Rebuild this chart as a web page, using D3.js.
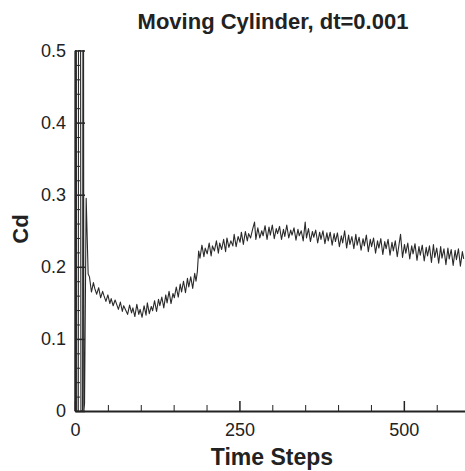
<!DOCTYPE html>
<html>
<head>
<meta charset="utf-8">
<script src="https://cdn.jsdelivr.net/npm/d3@7"></script>
<style>
  body { margin: 0; background: #fff; }
  svg { display: block; font-family: "Liberation Sans", Arial, sans-serif; }
  .axis text { font-size: 18px; fill: #222; }
  .axis path, .axis line { stroke: #222; }
</style>
</head>
<body>
<div id="chart"></div>
<script>
// tick values
const xMajor = [0, 250, 500];
const xMinor = [50, 100, 150, 200, 300, 350, 400, 450, 550];
const yMajor = [0, 0.1, 0.2, 0.3, 0.4, 0.5];
const yMinor = [0.02, 0.04, 0.06, 0.08, 0.12, 0.14, 0.16, 0.18, 0.22, 0.24, 0.26, 0.28,
                0.32, 0.34, 0.36, 0.38, 0.42, 0.44, 0.46, 0.48];

// start-up transient (clipped at 0.5 in the original)
const startup = [
  [0, 0], [0.5, 0.5], [2, 0.5], [2.5, 0], [5, 0], [5.3, 0.5], [8.5, 0.5], [9, 0],
  [11.5, 0], [12, 0.5], [13, 0.5], [13.5, 0], [14.5, 0.01], [17, 0.295], [20, 0.19]
];

// Cd vs time step
const cdSeries = [
  [22,.186],[25,.165],[28,.178],[30,.170],[33,.162],[36,.171],[39,.157],[42,.166],[44,.160],
  [47,.152],[50,.161],[53,.149],[55,.156],[58,.146],[61,.154],[63,.149],[66,.141],[69,.151],
  [72,.138],[74,.146],[77,.140],[80,.134],[83,.147],[86,.136],[88,.143],[91,.131],[94,.148],
  [97,.134],[99,.141],[102,.130],[105,.146],[108,.133],[110,.150],[113,.135],[116,.145],[118,.139],
  [121,.153],[124,.138],[127,.155],[129,.146],[132,.158],[135,.143],[138,.161],[140,.150],[143,.166],
  [146,.149],[149,.163],[151,.157],[154,.172],[157,.158],[160,.176],[162,.165],[165,.180],[168,.164],
  [171,.184],[173,.172],[176,.186],[179,.170],[182,.191],[184,.180],[186,.193],[188,.222],[190,.212],
  [193,.230],[196,.214],[198,.226],[201,.218],[204,.233],[207,.215],[209,.229],[212,.222],[215,.236],
  [218,.219],[220,.233],[223,.224],[226,.238],[229,.221],[231,.240],[234,.227],[237,.236],[240,.229],
  [242,.245],[245,.228],[248,.242],[251,.234],[253,.248],[256,.231],[259,.249],[262,.236],[264,.246],
  [267,.240],[270,.252],[273,.262],[275,.238],[278,.254],[281,.240],[284,.250],[286,.243],[289,.257],
  [292,.238],[295,.255],[297,.244],[300,.258],[303,.239],[306,.253],[308,.246],[311,.256],[314,.238],
  [317,.252],[319,.242],[322,.258],[325,.240],[328,.251],[330,.244],[333,.254],[336,.237],[339,.252],
  [341,.243],[344,.250],[347,.236],[350,.262],[352,.240],[355,.253],[358,.235],[361,.249],[363,.241],
  [366,.251],[369,.233],[372,.248],[374,.238],[377,.250],[380,.232],[383,.247],[385,.236],[388,.248],
  [391,.230],[394,.246],[396,.235],[399,.247],[402,.228],[405,.243],[407,.233],[410,.250],[413,.226],
  [416,.244],[418,.231],[421,.242],[424,.225],[427,.245],[429,.230],[432,.241],[435,.223],[438,.239],
  [440,.229],[443,.244],[446,.221],[449,.238],[451,.228],[454,.240],[457,.219],[460,.236],[462,.226],
  [465,.239],[468,.217],[471,.235],[473,.225],[476,.238],[479,.216],[482,.234],[484,.222],[487,.236],
  [490,.214],[493,.233],[495,.245],[498,.213],[501,.231],[503,.219],[506,.233],[509,.211],[512,.229],
  [514,.218],[517,.232],[520,.209],[523,.228],[525,.216],[528,.230],[531,.208],[534,.227],[536,.215],
  [539,.229],[542,.206],[545,.231],[547,.213],[550,.226],[553,.205],[556,.228],[558,.212],[561,.225],
  [564,.203],[567,.226],[569,.211],[572,.224],[575,.202],[578,.223],[580,.210],[583,.225],[586,.201],
  [589,.221],[591,.211]
];

const width = 465;
const height = 471;

const x = d3.scaleLinear().domain([0, 593]).range([75, 465]);
const y = d3.scaleLinear().domain([0, 0.5]).range([411, 50.5]);

const svg = d3.select('#chart')
  .append('svg')
  .attr('width', width)
  .attr('height', height);

// minor ticks first, then major axes on top
svg.append('g')
  .attr('class', 'axis')
  .attr('transform', 'translate(75,0)')
  .call(d3.axisLeft(y).tickValues(yMinor).tickSizeInner(-5).tickSizeOuter(0).tickFormat(''))
  .call(g => g.select('.domain').remove());

svg.append('g')
  .attr('class', 'axis')
  .attr('transform', 'translate(0,411)')
  .call(d3.axisBottom(x).tickValues(xMinor).tickSizeInner(-6).tickSizeOuter(0).tickFormat(''))
  .call(g => g.select('.domain').remove());

const yAxis = svg.append('g')
  .attr('class', 'axis')
  .attr('transform', 'translate(75,0)')
  .call(d3.axisLeft(y).tickValues(yMajor).tickSizeInner(-10).tickSizeOuter(0)
    .tickPadding(9).tickFormat(d => d === 0 ? '0' : d3.format('.1f')(d)));
yAxis.select('.domain').attr('stroke-width', 2);
yAxis.selectAll('.tick line').attr('stroke-width', 1.5);

const xAxis = svg.append('g')
  .attr('class', 'axis')
  .attr('transform', 'translate(0,411)')
  .call(d3.axisBottom(x).tickValues(xMajor).tickSizeInner(-10).tickSizeOuter(0)
    .tickPadding(12).tickFormat(d3.format('d')));
xAxis.select('.domain').attr('stroke-width', 2);
xAxis.selectAll('.tick line').attr('stroke-width', 1.5);

// the data line
const line = d3.line()
  .x(d => x(d[0]))
  .y(d => y(d[1]));

svg.append('path')
  .datum(startup.concat(cdSeries))
  .attr('fill', 'none')
  .attr('stroke', '#2a2a2a')
  .attr('stroke-width', 1.1)
  .attr('stroke-linejoin', 'round')
  .attr('d', line);

// titles
svg.append('text')
  .attr('x', 273)
  .attr('y', 29)
  .attr('text-anchor', 'middle')
  .attr('font-size', 22)
  .attr('font-weight', 'bold')
  .attr('fill', '#222')
  .text('Moving Cylinder, dt=0.001');

svg.append('text')
  .attr('x', 272)
  .attr('y', 465)
  .attr('text-anchor', 'middle')
  .attr('font-size', 23)
  .attr('font-weight', 'bold')
  .attr('fill', '#222')
  .text('Time Steps');

svg.append('text')
  .attr('transform', 'translate(28,229) rotate(-90)')
  .attr('text-anchor', 'middle')
  .attr('font-size', 22)
  .attr('font-weight', 'bold')
  .attr('fill', '#222')
  .text('Cd');
</script>
</body>
</html>
